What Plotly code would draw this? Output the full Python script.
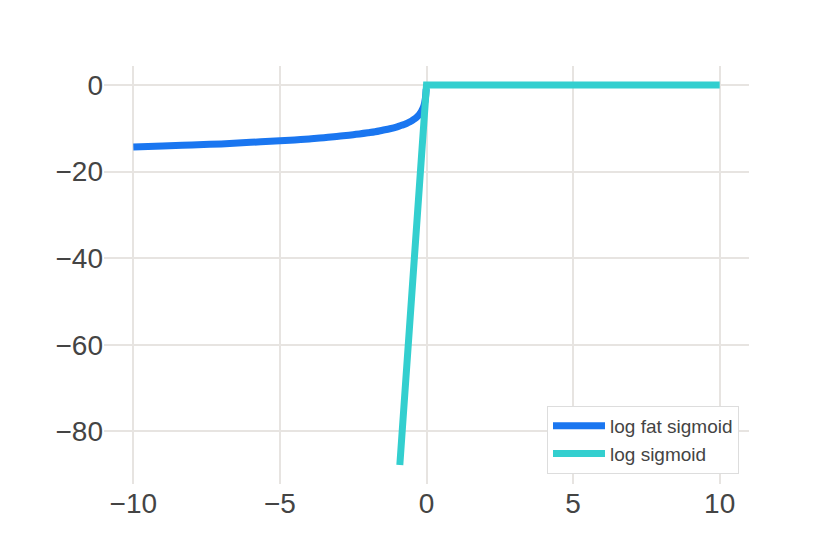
import plotly.graph_objs as go

# log fat sigmoid
fat_x = [-10, -9, -8, -7, -6, -5, -4.5, -4, -3.5, -3, -2.5, -2, -1.75, -1.5, -1.25, -1,
         -0.85, -0.7, -0.6, -0.5, -0.4, -0.3, -0.25, -0.2, -0.15, -0.1, -0.07, -0.05,
         -0.03, -0.02, -0.01]
fat_y = [-14.3, -14.1, -13.85, -13.6, -13.25, -12.9, -12.7, -12.45, -12.2, -11.85, -11.5,
         -11.05, -10.8, -10.45, -10.1, -9.65, -9.3, -8.95, -8.6, -8.25, -7.8, -7.2, -6.85,
         -6.4, -5.8, -5.0, -4.3, -3.6, -2.6, -1.8, -0.9]

# log sigmoid
sig_x = [-0.91, 0, 10]
sig_y = [-87.8, 0, 0]

x_ticks = [-10, -5, 0, 5, 10]
y_ticks = [0, -20, -40, -60, -80]

fig = go.Figure()

fig.add_trace(go.Scatter(
    x=fat_x, y=fat_y, mode='lines', name='log fat sigmoid',
    line=dict(color='#1a76f0', width=7, shape='spline')
))
fig.add_trace(go.Scatter(
    x=sig_x, y=sig_y, mode='lines', name='log sigmoid',
    line=dict(color='#33cfcf', width=7)
))

fig.update_layout(
    width=830,
    height=554,
    margin=dict(l=96, r=89, t=58, b=78),
    paper_bgcolor='white',
    plot_bgcolor='white',
    font=dict(family='Liberation Sans, Arial, sans-serif', color='#444444'),
    legend=dict(
        x=0.9845, xanchor='right',
        y=0.024, yanchor='bottom',
        bgcolor='white',
        bordercolor='#dddddd',
        borderwidth=1,
        font=dict(size=19, color='#444444'),
        itemwidth=52,
    ),
)

fig.update_xaxes(
    range=[-11, 11], tickvals=x_ticks, tickfont=dict(size=28),
    gridcolor='#e7e4e1', gridwidth=2, zeroline=False, showline=False, ticks=''
)
fig.update_yaxes(
    range=[-92.17, 4.39], tickvals=y_ticks, tickfont=dict(size=28),
    gridcolor='#e7e4e1', gridwidth=2, zeroline=False, showline=False, ticks=''
)

fig.write_html("out.html")
